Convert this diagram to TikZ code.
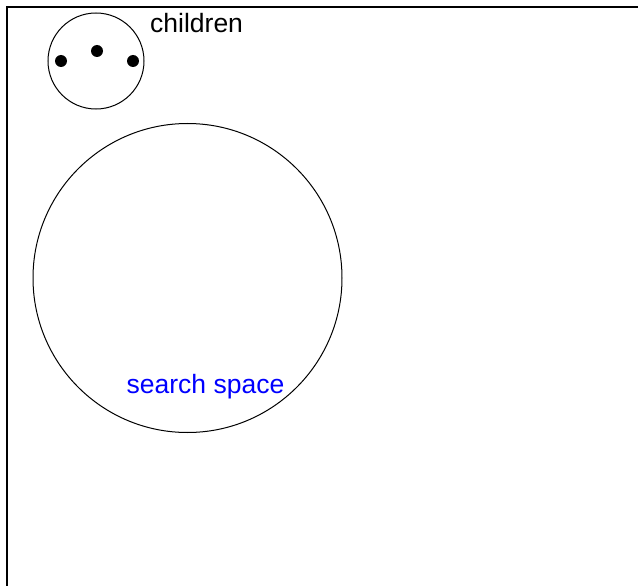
\documentclass[tikz,border=0pt]{standalone}
\usepackage{fontspec}
\setmainfont{Liberation Sans}
\begin{document}
\begin{tikzpicture}[x=1pt,y=-1pt,
  ring/.style={draw=black,line width=1pt},
  dot/.style={fill=black,circle,inner sep=0pt,minimum size=12pt},
  lbl/.style={font=\fontsize{26.5}{31}\selectfont,inner sep=0pt}]
\useasboundingbox (0,0) rectangle (638,586);
\coordinate (tr) at (638,7);
\coordinate (tl) at (7,7);
\coordinate (bl) at (7,586);
\draw[line width=1.5pt] (tr) -- (tl) -- (bl);
\node[ring,circle,minimum size=96pt,inner sep=0pt] (small) at (96,61) {};
\node[dot] (d1) at (61,61) {};
\node[dot] (d2) at (97,51) {};
\node[dot] (d3) at (133,61) {};
\node[lbl,anchor=base west] (ch) at (150,33) {children};
\node[ring,circle,minimum size=309pt,inner sep=0pt] (big) at (187.5,278) {};
\node[lbl,anchor=base,text=blue] (ss) at (205.5,393) {search space};
\end{tikzpicture}
\end{document}
